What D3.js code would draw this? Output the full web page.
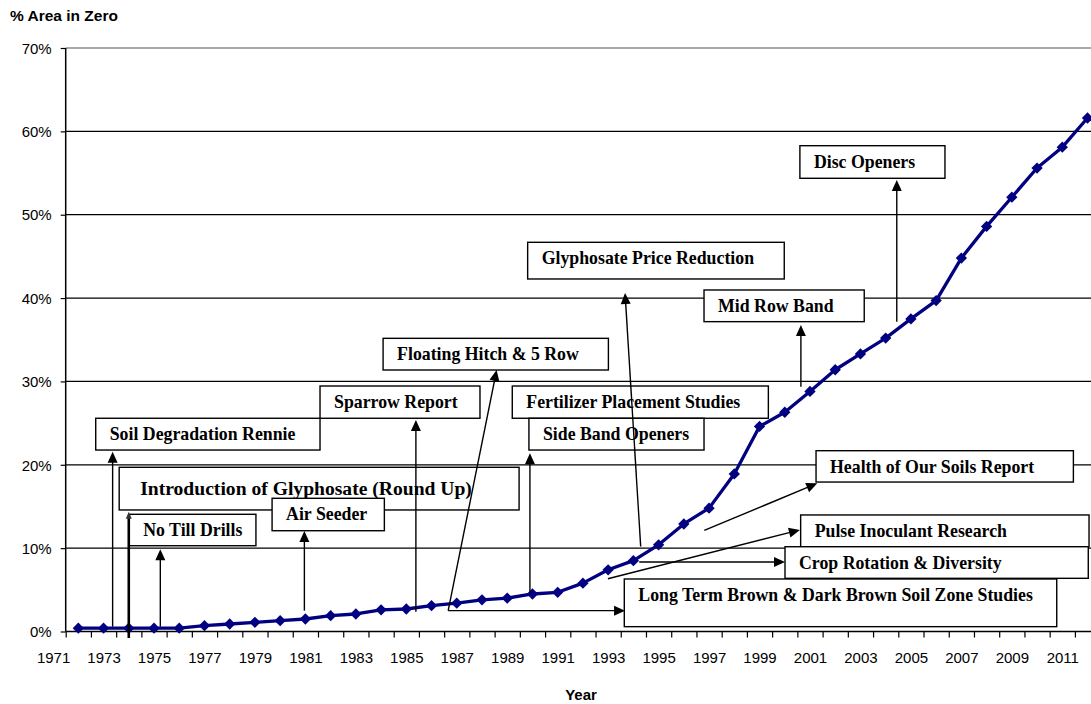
<!DOCTYPE html>
<html><head><meta charset="utf-8">
<script src="https://cdn.jsdelivr.net/npm/d3@7"></script>
<style>body{margin:0;background:#fff}svg{display:block}</style>
</head><body><svg id="c" width="1091" height="704"></svg>
<script>
// ---- data ----
const years = [1972,1973,1974,1975,1976,1977,1978,1979,1980,1981,
               1982,1983,1984,1985,1986,1987,1988,1989,1990,1991,
               1992,1993,1994,1995,1996,1997,1998,1999,2000,2001,
               2002,2003,2004,2005,2006,2007,2008,2009,2010,2011,2012];
const areaPct = [0.4,0.4,0.4,0.4,0.4,0.7,0.9,1.1,1.3,1.5,
                 1.9,2.1,2.6,2.7,3.1,3.4,3.8,4.0,4.5,4.7,
                 5.8,7.4,8.5,10.4,12.9,14.8,18.9,24.6,26.3,28.8,
                 31.4,33.3,35.2,37.5,39.7,44.8,48.6,52.1,55.6,58.1,61.6];
const yTicks = [0,10,20,30,40,50,60,70];
const yearLabels = [1971,1973,1975,1977,1979,1981,1983,1985,1987,1989,1991,
                    1993,1995,1997,1999,2001,2003,2005,2007,2009,2011];
const yTitle = "% Area in Zero";
const xTitle = "Year";

// annotation boxes in data space (year range, % range)
const notes = [
  {text:"Soil Degradation Rennie",            x0:1972.69, x1:1981.58, top:25.58, bot:21.77},
  {text:"Sparrow Report",                     x0:1981.58, x1:1987.92, top:29.45, bot:25.58},
  {text:"Introduction of Glyphosate (Round Up)", x0:1973.62, x1:1989.47, top:19.70, bot:14.58, big:true},
  {text:"Air Seeder",                         x0:1979.68, x1:1984.13, top:15.98, bot:12.09},
  {text:"No Till Drills",                     x0:1974.02, x1:1979.04, top:14.06, bot:10.29},
  {text:"Floating Hitch & 5 Row",             x0:1984.08, x1:1993.01, top:35.17, bot:31.37},
  {text:"Fertilizer Placement Studies",       x0:1989.20, x1:1999.35, top:29.45, bot:25.58},
  {text:"Side Band Openers",                  x0:1989.86, x1:1996.80, top:25.58, bot:21.77},
  {text:"Glyphosate Price Reduction",         x0:1989.81, x1:1999.98, top:46.69, bot:42.29},
  {text:"Mid Row Band",                       x0:1996.80, x1:2003.15, top:40.97, bot:37.17},
  {text:"Disc Openers",                       x0:2000.60, x1:2006.35, top:58.28, bot:54.37},
  {text:"Health of Our Soils Report",         x0:2001.24, x1:2011.44, top:21.69, bot:17.93},
  {text:"Pulse Inoculant Research",           x0:2000.63, x1:2012.06, top:13.98, bot:10.17},
  {text:"Crop Rotation & Diversity",          x0:2000.01, x1:2012.03, top:10.17, bot:6.38},
  {text:"Long Term Brown & Dark Brown Soil Zone Studies", x0:1993.64, x1:2010.78, top:6.30, bot:0.58}
];
// arrows in data space: [year, %] from -> to (tip)
const arrows = [
  {from:[1973.36,0.58],  to:[1973.36,21.57]},
  {from:[1974.00,-0.78], to:[1974.00,14.37], heavy:true},
  {from:[1975.25,0.58],  to:[1975.25,9.86]},
  {from:[1980.96,2.50],  to:[1980.96,12.06]},
  {from:[1985.38,2.38],  to:[1985.38,25.37]},
  {from:[1986.66,2.50],  to:[1988.58,31.37]},
  {from:[1986.66,2.50],  to:[1993.67,2.50]},
  {from:[1989.90,4.58],  to:[1989.90,21.38]},
  {from:[1994.29,10.20], to:[1993.67,40.61]},
  {from:[2000.64,29.37], to:[2000.64,36.77]},
  {from:[2004.44,37.17], to:[2004.44,54.16]},
  {from:[1996.81,12.12], to:[2001.29,17.78]},
  {from:[1992.99,6.33],  to:[2000.60,12.18]},
  {from:[1994.23,8.34],  to:[2000.01,8.34]}
];

// ---- chart ----
const W = 1091, H = 704;
const svg = d3.select("#c");
const x = d3.scaleLinear().domain([1971.5, 2012.5]).range([65.7, 65.7 + 41*25.23]);
const y = d3.scaleLinear().domain([0, 70]).range([631.5, 48]);
const plotL = x(1971.5), plotR = W;

// gridlines
svg.append("g").selectAll("line").data(yTicks.filter(d => d > 0)).join("line")
  .attr("x1", plotL).attr("x2", plotR)
  .attr("y1", d => y(d)).attr("y2", d => y(d))
  .attr("stroke", d => d === 70 ? "#8c8c8c" : "#000")
  .attr("stroke-width", 1.3);

// y axis
const yAxis = svg.append("g").attr("transform", `translate(${plotL},0)`)
  .call(d3.axisLeft(y).tickValues(yTicks).tickSize(5).tickPadding(9).tickFormat(d => d + "%"));
yAxis.select(".domain").attr("stroke", "#000").attr("stroke-width", 1.5).attr("d", `M0,${y(70)}V${y(0)}`);
yAxis.selectAll(".tick line").attr("stroke", "#000").attr("stroke-width", 1.2);
yAxis.selectAll("text").attr("font-family", "Liberation Sans, Arial, sans-serif")
  .attr("font-size", 15).attr("fill", "#000").attr("dy", "0.35em");

// x axis ticks (between categories)
const xTicksG = svg.append("g").attr("transform", `translate(0,${y(0)})`)
  .call(d3.axisBottom(x).tickValues(years.map(d => d - 0.5)).tickSize(6).tickFormat(""));
xTicksG.select(".domain").attr("stroke", "#000").attr("stroke-width", 1.5).attr("d", `M${plotL},0H${plotR}`);
xTicksG.selectAll(".tick line").attr("stroke", "#000").attr("stroke-width", 1.2);

// x labels
const xLab = svg.append("g").attr("transform", `translate(0,${y(0)})`)
  .call(d3.axisBottom(x).tickValues(yearLabels).tickSize(0).tickPadding(21).tickFormat(d3.format("d")));
xLab.select(".domain").remove();
xLab.selectAll("text").attr("font-family", "Liberation Sans, Arial, sans-serif")
  .attr("font-size", 15).attr("fill", "#000");

// titles
svg.append("text").attr("x", 10).attr("y", 21).text(yTitle)
  .attr("font-family", "Liberation Sans, Arial, sans-serif").attr("font-weight", "bold").attr("font-size", 15.5);
svg.append("text").attr("x", 581).attr("y", 700).attr("text-anchor", "middle").text(xTitle)
  .attr("font-family", "Liberation Sans, Arial, sans-serif").attr("font-weight", "bold").attr("font-size", 15);

// data line
const line = d3.line().x((d, i) => x(years[i])).y(d => y(d));
svg.append("path").datum(areaPct).attr("d", line)
  .attr("fill", "none").attr("stroke", "#000080").attr("stroke-width", 3.3).attr("stroke-linejoin", "round");
svg.append("g").selectAll("path").data(areaPct).join("path")
  .attr("d", d3.symbol(d3.symbolSquare, 64))
  .attr("transform", (d, i) => `translate(${x(years[i])},${y(d)}) rotate(45)`)
  .attr("fill", "#000080");

// annotation boxes
const ng = svg.append("g").selectAll("g").data(notes).join("g");
ng.append("rect")
  .attr("x", d => x(d.x0)).attr("y", d => y(d.top))
  .attr("width", d => x(d.x1) - x(d.x0)).attr("height", d => y(d.bot) - y(d.top))
  .attr("fill", "#fff").attr("stroke", "#000").attr("stroke-width", 1.4);
ng.append("text")
  .attr("x", d => x(d.x0) + (d.big ? 21 : 14))
  .attr("y", d => y(d.top) + (d.big ? 28 : 22))
  .attr("font-family", "Liberation Serif, 'Times New Roman', serif")
  .attr("font-weight", "bold")
  .attr("font-size", d => d.big ? 19.6 : 17.8)
  .attr("fill", "#000")
  .text(d => d.text);

// arrows
const ag = svg.append("g");
arrows.forEach(a => {
  const x1 = x(a.from[0]), y1 = y(a.from[1]), x2 = x(a.to[0]), y2 = y(a.to[1]);
  const ang = Math.atan2(y2 - y1, x2 - x1);
  const len = a.heavy ? 7 : 11, hw = a.heavy ? 3 : 5;
  const bx = x2 - len * Math.cos(ang), by = y2 - len * Math.sin(ang);
  ag.append("line").attr("x1", x1).attr("y1", y1).attr("x2", bx + 1*Math.cos(ang)).attr("y2", by + 1*Math.sin(ang))
    .attr("stroke", "#000").attr("stroke-width", a.heavy ? 2.6 : 1.4);
  const px = -Math.sin(ang), py = Math.cos(ang);
  ag.append("path")
    .attr("d", `M${x2},${y2}L${bx + hw*px},${by + hw*py}L${bx - hw*px},${by - hw*py}Z`)
    .attr("fill", a.heavy ? "#333" : "#000");
});
</script></body></html>
